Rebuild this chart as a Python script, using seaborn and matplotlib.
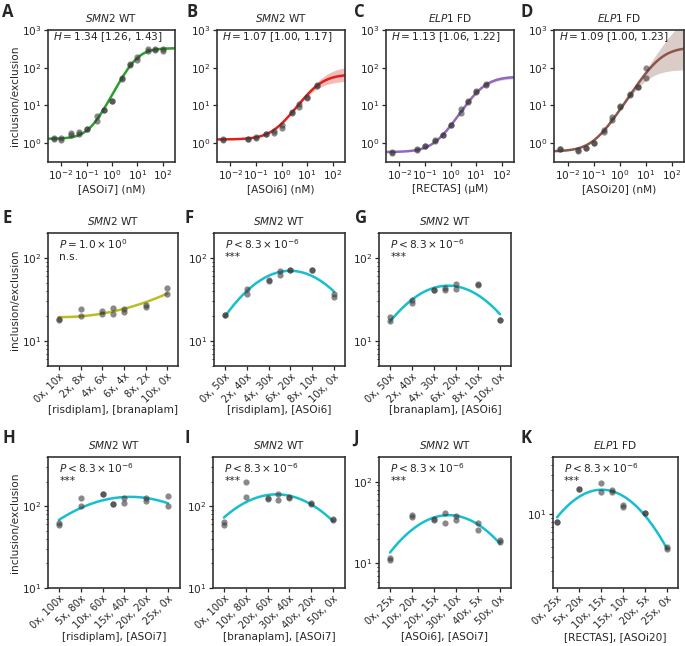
import numpy as np
import matplotlib
matplotlib.use("Agg")
import matplotlib.pyplot as plt
import seaborn as sns
from matplotlib.ticker import NullLocator, NullFormatter

# ---------------- top row: dose-response data ----------------
dose_asoi7 = [0.005, 0.005, 0.01, 0.01, 0.025, 0.025, 0.05, 0.05, 0.1, 0.1,
              0.25, 0.25, 0.5, 0.5, 1, 1, 2.5, 2.5, 5, 5, 10, 10, 25, 25,
              50, 50, 100, 100]
ratio_asoi7 = [1.39, 1.25, 1.36, 1.22, 1.88, 1.6, 1.96, 1.77, 2.4, 2.35,
               5.2, 3.8, 7.7, 7.5, 13.5, 13.0, 53, 51, 123, 120, 192, 163,
               307, 270, 307, 300, 320, 270]

dose_asoi6 = [0.005, 0.005, 0.05, 0.05, 0.1, 0.1, 0.25, 0.25, 0.5, 0.5,
              1, 1, 2.5, 2.5, 5, 5, 10, 10, 25, 25]
ratio_asoi6 = [1.25, 1.24, 1.30, 1.28, 1.44, 1.40, 1.77, 1.74, 2.04, 1.88,
               3.07, 2.55, 6.6, 6.4, 11.0, 9.1, 16.6, 16.0, 34, 33]

dose_rectas = [0.005, 0.005, 0.05, 0.05, 0.1, 0.1, 0.25, 0.25, 0.5, 0.5,
               1, 1, 2.5, 2.5, 5, 5, 10, 10, 25, 25]
ratio_rectas = [0.58, 0.56, 0.68, 0.67, 0.83, 0.82, 1.18, 1.16, 1.66, 1.62,
                3.07, 3.0, 8.2, 6.4, 12.8, 12.2, 23.5, 22.8, 38, 34]

dose_asoi20 = [0.005, 0.005, 0.025, 0.025, 0.05, 0.05, 0.1, 0.1, 0.25, 0.25,
               0.5, 0.5, 1, 1, 2.5, 2.5, 5, 5, 10, 10]
ratio_asoi20 = [0.71, 0.68, 0.64, 0.63, 0.75, 0.74, 1.02, 1.0, 2.2, 1.96,
                4.9, 4.0, 9.4, 9.2, 19.6, 19.2, 31, 30.5, 98, 53]

# Hill fit parameters: bottom, top, EC50, H ; band = (top_low, top_high)
hill_asoi7 = (1.3, 330, 8.5, 1.34)
band_asoi7 = (318, 342)
hill_asoi6 = (1.25, 67, 25, 1.07)
band_asoi6 = (45, 110)
hill_rectas = (0.58, 58, 16.5, 1.13)
band_rectas = (52, 65)
hill_asoi20 = (0.6, 350, 36, 1.09)
band_asoi20 = (90, 3000)

h_text = ["1.34 [1.26, 1.43]", "1.07 [1.00, 1.17]",
          "1.13 [1.06, 1.22]", "1.09 [1.00, 1.23]"]

# ---------------- rows 2-3: two-drug combinations ----------------
combo_frac = [0, 0, 0.2, 0.2, 0.4, 0.4, 0.5, 0.5, 0.6, 0.6, 0.8, 0.8, 1.0, 1.0]
combo_ticks = [0, 0.2, 0.4, 0.6, 0.8, 1.0]

ratio_ris_bran = [18.4, 17.7, 24.4, 19.9, 23.3, 21.4, 24.9, 21.2, 24.0, 22.2,
                  26.9, 25.8, 43, 37.3]
ratio_ris_asoi6 = [20.8, 20.4, 42, 37.3, 53, 55, 70.6, 62.5, 72.6, 72,
                   72.6, 72, 37.3, 33.9]
ratio_bran_asoi6 = [19.5, 17.3, 31.2, 28.4, 41.3, 41, 44.1, 41.3, 48.1, 42.1,
                    48.1, 47.8, 18.1, 18.0]
ratio_ris_asoi7 = [62.5, 58.5, 125, 102, 143, 142, 106, 105, 126, 110,
                   126, 117, 132, 102]
ratio_bran_asoi7 = [64, 59.7, 199, 128, 125, 123, 140, 118, 128, 125,
                    108, 105, 69, 67.4]
ratio_asoi6_asoi7 = [11.5, 11, 38.6, 36.9, 34.9, 33.6, 41.2, 31.2, 37.6, 33.6,
                     31.2, 25.4, 19.5, 18.2]
ratio_rectas_asoi20 = [8.1, 8.0, 20.5, 20.2, 24.3, 18.7, 20, 18.7, 12.9, 12.3,
                       10.4, 10.3, 4.0, 3.8]

labels_ris_bran = ["0x, 10x", "2x, 8x", "4x, 6x", "6x, 4x", "8x, 2x", "10x, 0x"]
labels_x_asoi6 = ["0x, 50x", "2x, 40x", "4x, 30x", "6x, 20x", "8x, 10x", "10x, 0x"]
labels_ris_asoi7 = ["0x, 100x", "5x, 80x", "10x, 60x", "15x, 40x", "20x, 20x", "25x, 0x"]
labels_bran_asoi7 = ["0x, 100x", "10x, 80x", "20x, 60x", "30x, 40x", "40x, 20x", "50x, 0x"]
labels_asoi6_asoi7 = ["0x, 25x", "10x, 20x", "20x, 15x", "30x, 10x", "40x, 5x", "50x, 0x"]
labels_rectas_asoi20 = ["0x, 25x", "5x, 20x", "10x, 15x", "15x, 10x", "20x, 5x", "25x, 0x"]

# ---------------- style ----------------
FS = 7.6
sns.set_theme(context="paper", style="ticks", rc={
    "font.size": FS, "axes.titlesize": FS, "axes.labelsize": FS,
    "xtick.labelsize": FS, "ytick.labelsize": FS,
    "axes.linewidth": 1.2, "axes.edgecolor": ".2",
    "xtick.major.size": 2.8, "ytick.major.size": 2.8,
    "xtick.major.width": 0.9, "ytick.major.width": 0.9,
    "ytick.minor.size": 1.6, "ytick.minor.width": 0.7,
    "xtick.major.pad": 1.8, "ytick.major.pad": 1.8,
    "axes.labelpad": 1.5,
})

FIG_W, FIG_H = 685, 646
fig = plt.figure(figsize=(6.85, 6.46), dpi=100)


def place(l, t, r, b):
    return fig.add_axes([l / FIG_W, 1 - b / FIG_H, (r - l) / FIG_W, (b - t) / FIG_H])


def hill(x, b, t, k, h):
    u = (x / k) ** h
    return b + (t - b) * u / (1 + u)


def gene_title(ax, gene, rest, pad):
    ax.set_title(r"$\mathit{" + gene + "}$" + rest, pad=pad)


POINT = dict(color="#3a3a3a", alpha=0.6, s=20, linewidth=0, zorder=3)


def dose_panel(ax, dose, ratio, params, band, color, gene, rest, xlabel, htxt):
    b, t, k, h = params
    ax.set_xscale("log")
    ax.set_yscale("log")
    xs = np.geomspace(0.003, 300, 300)
    fit = hill(xs, b, t, k, h)
    edges = []
    for t_alt in band:
        k_alt = k * ((t_alt - b) / (t - b)) ** (1 / h)
        edges.append(hill(xs, b, t_alt, k_alt, h))
    ax.fill_between(xs, np.minimum(*edges), np.maximum(*edges),
                    color=color, alpha=0.3, lw=0)
    sns.lineplot(x=xs, y=fit, color=color, lw=1.8, ax=ax, estimator=None)
    sns.scatterplot(x=dose, y=ratio, ax=ax, **POINT)
    ax.set_xlim(0.003, 300)
    ax.set_ylim(10 ** -0.5, 1000)
    ax.set_xticks([1e-2, 1e-1, 1, 10, 100])
    ax.set_yticks([1, 10, 100, 1000])
    ax.xaxis.set_minor_locator(NullLocator())
    ax.yaxis.set_minor_locator(NullLocator())
    ax.set_xlabel(xlabel)
    gene_title(ax, gene, rest, 6)
    ax.text(0.04, 0.995, r"$H = $" + htxt, transform=ax.transAxes,
            ha="left", va="top")


def combo_panel(ax, ratio, ticklabels, color, gene, rest, xlabel, ylim,
                xlim, ptxt, stars):
    ax.set_yscale("log")
    frac = np.array(combo_frac)
    coef = np.polyfit(frac, np.log10(ratio), 2)
    xs = np.linspace(0, 1, 200)
    sns.lineplot(x=xs, y=10 ** np.polyval(coef, xs), color=color, lw=1.8,
                 ax=ax, estimator=None)
    sns.scatterplot(x=frac, y=ratio, ax=ax, **POINT)
    ax.set_xlim(*xlim)
    ax.set_ylim(*ylim)
    ax.set_xticks(combo_ticks, ticklabels, rotation=45, ha="right",
                  rotation_mode="anchor", fontsize=7.1)
    ax.tick_params(axis="x", pad=1.0)
    ax.yaxis.set_minor_formatter(NullFormatter())
    ax.set_xlabel(xlabel, labelpad=0.5)
    gene_title(ax, gene, rest, 6)
    ax.text(0.085, 0.97, ptxt, transform=ax.transAxes, ha="left", va="top")
    ax.text(0.085, 0.855, stars, transform=ax.transAxes, ha="left", va="top")


# ---------------- top row ----------------
ax_a = place(48, 30, 175, 162)
ax_b = place(217, 30, 345, 162)
ax_c = place(386, 30, 514, 162)
ax_d = place(554, 30, 684, 162)

dose_panel(ax_a, dose_asoi7, ratio_asoi7, hill_asoi7, band_asoi7, "#2ca02c",
           "SMN", "2 WT", "[ASOi7] (nM)", h_text[0])
dose_panel(ax_b, dose_asoi6, ratio_asoi6, hill_asoi6, band_asoi6, "#e0201b",
           "SMN", "2 WT", "[ASOi6] (nM)", h_text[1])
dose_panel(ax_c, dose_rectas, ratio_rectas, hill_rectas, band_rectas, "#9467bd",
           "ELP", "1 FD", "[RECTAS] (\u00b5M)", h_text[2])
dose_panel(ax_d, dose_asoi20, ratio_asoi20, hill_asoi20, band_asoi20, "#8c564b",
           "ELP", "1 FD", "[ASOi20] (nM)", h_text[3])
ax_a.set_ylabel("inclusion/exclusion")

# ---------------- second row ----------------
P_NS = r"$P = 1.0 \times 10^{0}$"
P_SIG = r"$P < 8.3 \times 10^{-6}$"
CYAN = "#17becf"

ax_e = place(48, 233, 178, 366)
ax_f = place(214, 233, 345, 366)
ax_g = place(379, 233, 511, 366)
combo_panel(ax_e, ratio_ris_bran, labels_ris_bran, "#bcbd22", "SMN", "2 WT",
            "[risdiplam], [branaplam]", (5, 200), (-0.1, 1.1), P_NS, "n.s.")
combo_panel(ax_f, ratio_ris_asoi6, labels_x_asoi6, CYAN, "SMN", "2 WT",
            "[risdiplam], [ASOi6]", (5, 200), (-0.1, 1.1), P_SIG, "***")
combo_panel(ax_g, ratio_bran_asoi6, labels_x_asoi6, CYAN, "SMN", "2 WT",
            "[branaplam], [ASOi6]", (5, 200), (-0.1, 1.1), P_SIG, "***")
ax_e.set_ylabel("inclusion/exclusion")

# ---------------- third row ----------------
ax_h = place(48, 457, 180, 588)
ax_i = place(213, 457, 345, 588)
ax_j = place(379, 457, 511, 588)
ax_k = place(553, 457, 678, 588)
combo_panel(ax_h, ratio_ris_asoi7, labels_ris_asoi7, CYAN, "SMN", "2 WT",
            "[risdiplam], [ASOi7]", (10, 400), (-0.1, 1.11), P_SIG, "***")
combo_panel(ax_i, ratio_bran_asoi7, labels_bran_asoi7, CYAN, "SMN", "2 WT",
            "[branaplam], [ASOi7]", (10, 400), (-0.1, 1.11), P_SIG, "***")
combo_panel(ax_j, ratio_asoi6_asoi7, labels_asoi6_asoi7, CYAN, "SMN", "2 WT",
            "[ASOi6], [ASOi7]", (5, 200), (-0.1, 1.1), P_SIG, "***")
combo_panel(ax_k, ratio_rectas_asoi20, labels_rectas_asoi20, CYAN, "ELP", "1 FD",
            "[RECTAS], [ASOi20]", (1.25, 50), (-0.037, 1.1), P_SIG, "***")
ax_h.set_ylabel("inclusion/exclusion")

# ---------------- panel letters ----------------
letters = ["A", "B", "C", "D", "E", "F", "G", "H", "I", "J", "K"]
letter_x = [2, 187, 354, 520, 2, 184, 355, 3, 185, 353, 520]
letter_y = [3, 3, 3, 3, 209, 209, 209, 429, 429, 429, 429]
for let, lx, ly in zip(letters, letter_x, letter_y):
    fig.text(lx / FIG_W, 1 - ly / FIG_H, let, fontsize=12, fontweight="bold",
             family=["Open Sans", "DejaVu Sans"], ha="left", va="top")

fig.savefig("out.png", dpi=100)
